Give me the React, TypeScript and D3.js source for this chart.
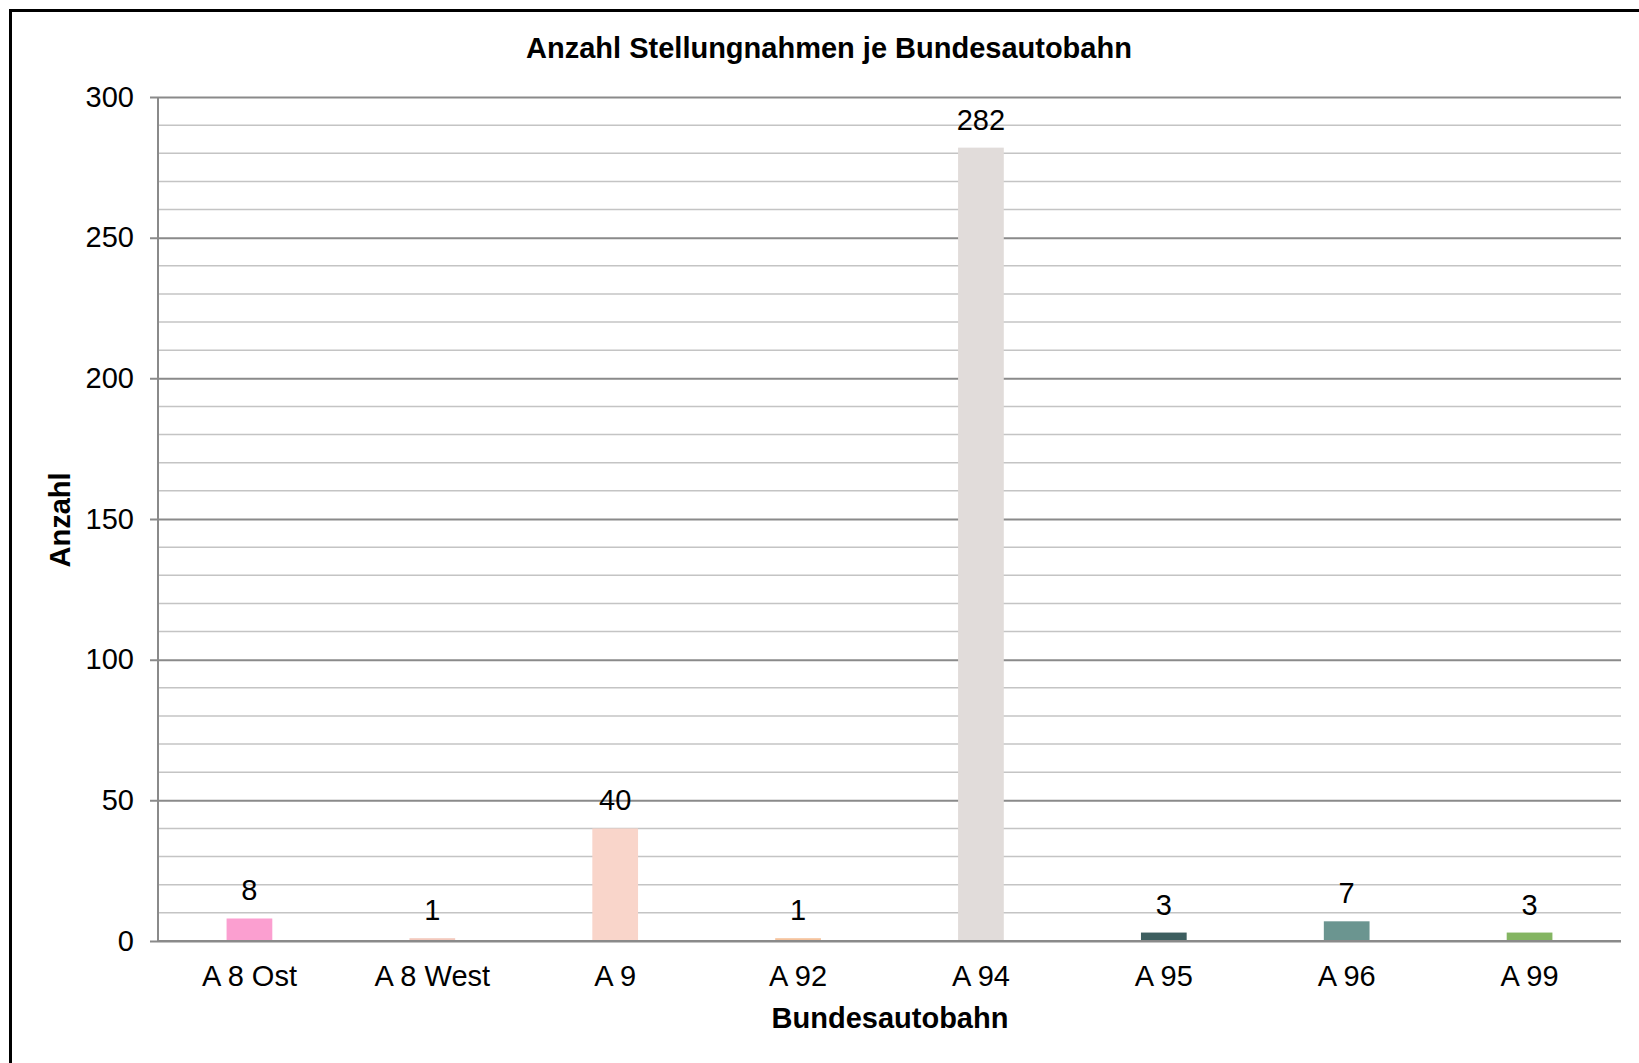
import * as d3 from "d3";
import { useEffect, useRef } from "react";

const categories = ["A 8 Ost", "A 8 West", "A 9", "A 92", "A 94", "A 95", "A 96", "A 99"];
const values = [8, 1, 40, 1, 282, 3, 7, 3];
const colors = ["#fb9fd0", "#f3c9bd", "#f9d5ca", "#f5c39d", "#e1dcda", "#3d5e5f", "#6b9590", "#84b562"];
const majorTicks = [0, 50, 100, 150, 200, 250, 300];
const minorTicks = d3.range(0, 301, 10);

const W = 1639;
const H = 1063;
const FONT = "'Liberation Sans', Arial, sans-serif";

const App = () => {
  const svgRef = useRef(null);

  useEffect(() => {
    const svg = d3.select(svgRef.current);
    svg.selectAll("*").remove();

    const margin = { top: 97, right: 18, bottom: 122, left: 158 };
    const innerWidth = W - margin.left - margin.right;
    const innerHeight = H - margin.top - margin.bottom;

    // outer frame, runs off the right and bottom edges
    svg
      .append("rect")
      .attr("x", 10.5)
      .attr("y", 10.5)
      .attr("width", 3000)
      .attr("height", 3000)
      .attr("fill", "none")
      .attr("stroke", "#000")
      .attr("stroke-width", 3);

    svg
      .append("text")
      .attr("x", 829)
      .attr("y", 58)
      .attr("text-anchor", "middle")
      .attr("font-family", FONT)
      .attr("font-weight", "bold")
      .attr("font-size", 29)
      .text("Anzahl Stellungnahmen je Bundesautobahn");

    const g = svg
      .append("g")
      .attr("transform", "translate(" + margin.left + "," + margin.top + ")");

    const x = d3
      .scaleBand()
      .domain(categories)
      .range([0, innerWidth])
      .paddingInner(0.75)
      .paddingOuter(0.375);

    const y = d3.scaleLinear().domain([0, 300]).range([innerHeight, 0]);

    // minor gridlines
    g.append("g")
      .selectAll("line")
      .data(minorTicks.filter((t) => t % 50 !== 0))
      .join("line")
      .attr("x1", 0)
      .attr("x2", innerWidth)
      .attr("y1", (d) => y(d))
      .attr("y2", (d) => y(d))
      .attr("stroke", "#c4c4c4")
      .attr("stroke-width", 1.5);

    // major gridlines + axis
    const yAxis = g
      .append("g")
      .call(d3.axisLeft(y).tickValues(majorTicks).tickSize(-innerWidth).tickPadding(24).tickSizeOuter(0));
    yAxis.select(".domain").remove();
    yAxis.selectAll(".tick line").attr("stroke", "#8a8a8a").attr("stroke-width", 2).attr("x1", -8);
    yAxis
      .selectAll(".tick text")
      .attr("font-family", FONT)
      .attr("font-size", 29)
      .attr("fill", "#000");

    g.append("line")
      .attr("x1", 0)
      .attr("x2", 0)
      .attr("y1", 0)
      .attr("y2", innerHeight)
      .attr("stroke", "#8a8a8a")
      .attr("stroke-width", 2);

    g.append("g")
      .selectAll("rect")
      .data(values)
      .join("rect")
      .attr("x", (d, i) => x(categories[i]))
      .attr("y", (d) => y(d))
      .attr("width", x.bandwidth())
      .attr("height", (d) => innerHeight - y(d))
      .attr("fill", (d, i) => colors[i]);

    g.append("line")
      .attr("x1", 0)
      .attr("x2", innerWidth)
      .attr("y1", innerHeight)
      .attr("y2", innerHeight)
      .attr("stroke", "#8a8a8a")
      .attr("stroke-width", 2);

    g.append("g")
      .selectAll("text")
      .data(values)
      .join("text")
      .attr("x", (d, i) => x(categories[i]) + x.bandwidth() / 2)
      .attr("y", (d) => y(d) - 18)
      .attr("text-anchor", "middle")
      .attr("font-family", FONT)
      .attr("font-size", 29)
      .text((d) => d);

    g.append("g")
      .selectAll("text")
      .data(categories)
      .join("text")
      .attr("x", (d) => x(d) + x.bandwidth() / 2)
      .attr("y", innerHeight + 45)
      .attr("text-anchor", "middle")
      .attr("font-family", FONT)
      .attr("font-size", 29)
      .text((d) => d);

    g.append("text")
      .attr("x", 732)
      .attr("y", innerHeight + 87)
      .attr("text-anchor", "middle")
      .attr("font-family", FONT)
      .attr("font-weight", "bold")
      .attr("font-size", 29)
      .text("Bundesautobahn");

    svg
      .append("text")
      .attr("transform", "translate(70,520) rotate(-90)")
      .attr("text-anchor", "middle")
      .attr("font-family", FONT)
      .attr("font-weight", "bold")
      .attr("font-size", 29)
      .text("Anzahl");
  }, []);

  return (
    <svg
      ref={svgRef}
      width={W}
      height={H}
      style={{ position: "absolute", left: 0, top: 0, display: "block", background: "#fff" }}
    />
  );
};

export default App;
